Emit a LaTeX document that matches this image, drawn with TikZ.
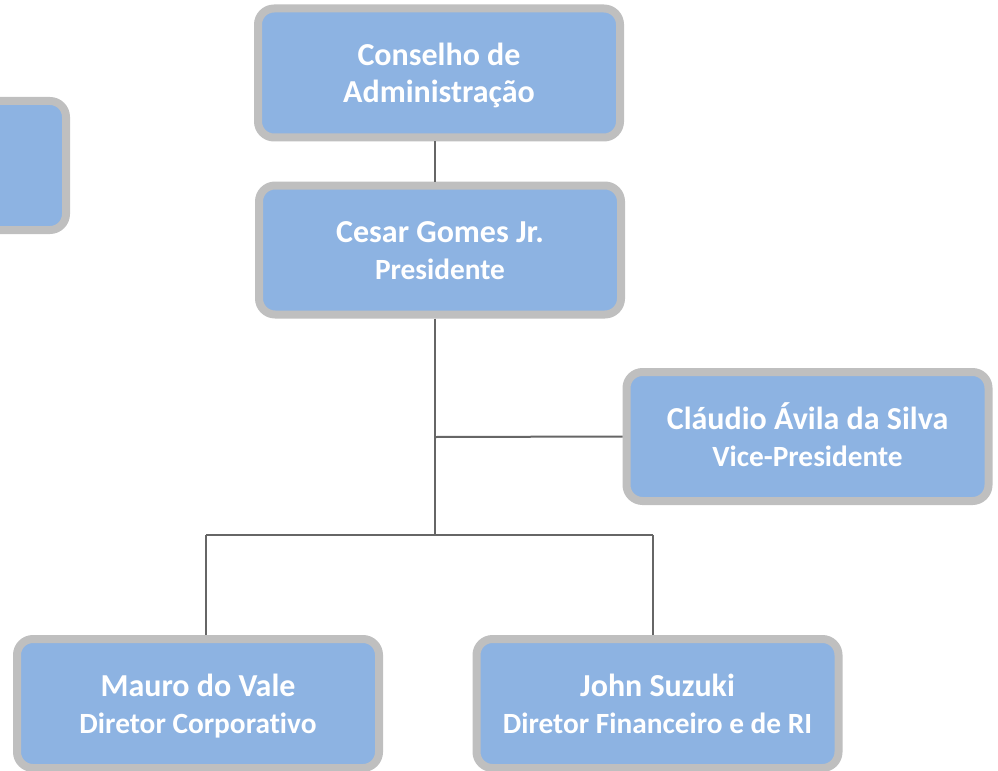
\documentclass[tikz,border=0pt]{standalone}
\usepackage{fontspec}
\setmainfont{Carlito}[Ligatures=NoCommon]
\usepackage{tikz}
\usetikzlibrary{calc}
\definecolor{boxblue}{HTML}{8DB3E2}
\definecolor{boxrim}{HTML}{BFBFBF}
\definecolor{wire}{HTML}{666666}
\newcommand{\rolefont}{\fontsize{22}{27.75}\selectfont}

\begin{document}
\begin{tikzpicture}[x=0.75pt, y=-0.75pt,
        orgbox/.style={draw=boxrim, fill=boxblue, line width=6pt, rounded corners=12pt,
            minimum width=271.5pt, minimum height=96.75pt, align=center,
            text height=45.75pt, text depth=1.5pt,
            text=white, font=\bfseries\fontsize{24}{27.75}\selectfont},
        wireline/.style={draw=wire, line width=1.5pt}]

            \useasboundingbox (0, 0) rectangle (998, 770);
            \clip (0, 0) rectangle (998, 770);

            %boxes
            \node[orgbox] (board) at (439, 73) {Conselho de\\Administração};
            \node[orgbox] (pres) at (440, 250) {Cesar Gomes Jr.\\{\rolefont Presidente}};
            \node[orgbox] (side) at (-115, 165.5) {};
            \node[orgbox] (vice) at (807.5, 436.5) {Cláudio Ávila da Silva\\{\rolefont Vice-Presidente}};
            \node[orgbox] (corp) at (198, 703.5) {Mauro do Vale\\{\rolefont Diretor Corporativo}};
            \node[orgbox] (fin) at (657.5, 703.5) {John Suzuki\\{\rolefont Diretor Financeiro e de RI}};

            %connectors
            \coordinate (spine) at (435, 535);
            \coordinate (vicejoin) at (435, 437);
            \coordinate (corpjoin) at (206, 535);
            \coordinate (finjoin) at (653, 535);
            \draw[wireline] (board.south -| spine) -- (pres.north -| spine);
            \draw[wireline] (pres.south -| spine) -- (spine);
            \draw[wireline] (vicejoin) -- (vice.west);
            \draw[wireline] (corpjoin) -- (finjoin);
            \draw[wireline] (corpjoin) -- (corpjoin |- corp.north);
            \draw[wireline] (finjoin) -- (finjoin |- fin.north);
        \end{tikzpicture}
\end{document}
